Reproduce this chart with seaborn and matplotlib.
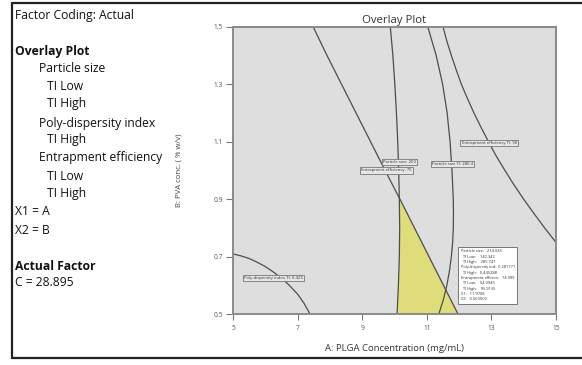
import numpy as np
import pandas as pd
import matplotlib
matplotlib.use("Agg")
import matplotlib.pyplot as plt
from matplotlib.lines import Line2D
import seaborn as sns

# ---- contour data (A: PLGA conc., B: PVA conc.) ----
b_levels = [0.5, 0.6, 0.7, 0.8, 0.9, 1.0, 1.1, 1.2, 1.3, 1.4, 1.5]
ps_low_a = [10.08, 10.12, 10.15, 10.16, 10.15, 10.13, 10.10, 10.06, 10.01, 9.95, 9.87]     # Particle size: 200
ee_low_a = [11.97, 11.52, 11.07, 10.62, 10.17, 9.71, 9.26, 8.81, 8.36, 7.91, 7.48]        # Entrapment efficiency: 75

ps_high_b = [0.5, 0.55, 0.6, 0.65, 0.7, 0.75, 0.8, 0.85, 0.9, 1.0, 1.1, 1.2, 1.3, 1.4, 1.5]
ps_high_a = [11.37, 11.51, 11.62, 11.70, 11.76, 11.80, 11.82, 11.825, 11.82, 11.78,
             11.72, 11.63, 11.49, 11.29, 11.03]                                            # Particle size TI: 280.4

ee_high_b = [0.75, 0.8, 0.85, 0.9, 0.95, 1.0, 1.05, 1.1, 1.15, 1.2, 1.25, 1.3, 1.35, 1.4, 1.45, 1.5]
ee_high_a = [15.0, 14.65, 14.32, 14.00, 13.70, 13.42, 13.15, 12.91, 12.68, 12.46,
             12.26, 12.07, 11.91, 11.76, 11.62, 11.50]                                     # Entrapment efficiency TI: 90

pdi_a = [5.0, 5.25, 5.5, 5.75, 6.0, 6.25, 6.5, 6.75, 7.0, 7.2, 7.39]
pdi_b = [0.710, 0.703, 0.694, 0.681, 0.666, 0.647, 0.626, 0.600, 0.570, 0.538, 0.5]      # Poly-dispersity index TI: 0.423

x_ticks = [5, 7, 9, 11, 13, 15]
y_ticks = [0.5, 0.7, 0.9, 1.1, 1.3, 1.5]

# flag point
flag_x1 = 11.9708
flag_x2 = 0.500002
flag_lines = [
    "Particle size:   214.045",
    "  TI Low:    142.342",
    "  TI High:    285.747",
    "Poly-dispersity ind:  0.281771",
    "  TI High:   0.445288",
    "Entrapment efficien:   74.999",
    "  TI Low:    54.0945",
    "  TI High:    95.9135",
    f"X1:   {flag_x1:.4f}",
    f"X2:   {flag_x2:.6f}",
]

sidebar = [
    ("Factor Coding: Actual", 15, 15, "normal"),
    ("Overlay Plot", 15, 52, "bold"),
    ("Particle size", 39, 69, "normal"),
    ("TI Low", 47, 87, "normal"),
    ("TI High", 47, 104, "normal"),
    ("Poly-dispersity index", 39, 123, "normal"),
    ("TI High", 47, 140, "normal"),
    ("Entrapment efficiency", 39, 158, "normal"),
    ("TI Low", 47, 176, "normal"),
    ("TI High", 47, 194, "normal"),
    ("X1 = A", 15, 212, "normal"),
    ("X2 = B", 15, 231, "normal"),
    ("Actual Factor", 15, 266, "bold"),
    ("C = 28.895", 15, 283, "normal"),
]

sns.set_theme(style="white")
plt.rcParams["font.family"] = ["Open Sans", "DejaVu Sans"]

W, H = 582, 365
fig = plt.figure(figsize=(W / 100, H / 100), dpi=100)
fig.patch.set_facecolor("white")
ax = fig.add_axes([233 / W, 1 - 314.3 / H, (556 - 233) / W, (314.3 - 26.7) / H])
ax.set_facecolor("#dedede")

line_col = "#4d4d4d"

# desirable region between the PS 200 and EE 75 boundaries
ax.fill_betweenx(b_levels, ps_low_a, ee_low_a,
                 where=np.array(ee_low_a) >= np.array(ps_low_a),
                 interpolate=True, color="#dfdc7a", lw=0, zorder=1)

curves = [
    (ps_low_a, b_levels),
    (ps_high_a, ps_high_b),
    (ee_low_a, b_levels),
    (ee_high_a, ee_high_b),
    (pdi_a, pdi_b),
]
for xs, ys in curves:
    df = pd.DataFrame({"A": xs, "B": ys})
    sns.lineplot(data=df, x="A", y="B", sort=False, estimator=None,
                 color=line_col, lw=0.9, ax=ax, zorder=2)

ax.set_xlim(5, 15)
ax.set_ylim(0.5, 1.5)
ax.set_xticks(x_ticks)
ax.set_yticks(y_ticks)
ax.set_xticklabels([str(v) for v in x_ticks])
ax.set_yticklabels([f"{v:.1f}" for v in y_ticks])
ax.tick_params(axis="both", direction="out", bottom=True, left=True,
               width=0.8, color="#777777", labelcolor="#555555", labelsize=4.8)
ax.tick_params(axis="y", length=5, pad=2.2)
ax.tick_params(axis="x", length=4.3, pad=3.4)
for s in ax.spines.values():
    s.set_color("#8a8a8a")
    s.set_linewidth(1.4)

ax.set_xlabel("A: PLGA Concentration (mg/mL)", fontsize=6.8, color="#333333", labelpad=9)
ax.set_ylabel("B: PVA conc. ( % w/v)", fontsize=5.6, color="#444444", labelpad=22)
ax.set_title("Overlay Plot", fontsize=8.2, color="#333333", pad=3)

box = dict(boxstyle="square,pad=0.25", fc="#e6e6e6", ec="#777777", lw=0.6)
labels = [
    ("Particle size: 200", 10.15, 1.03),
    ("Entrapment efficiency: 75", 9.75, 1.00),
    ("Particle size TI: 280.4", 11.79, 1.023),
    ("Entrapment efficiency TI: 90", 12.93, 1.097),
    ("Poly-dispersity index TI: 0.423", 6.26, 0.625),
]
for txt, lx, ly in labels:
    ax.text(lx, ly, txt, fontsize=3.1, color="#333333", ha="center", va="center",
            bbox=box, zorder=4)

ax.text(flag_x1 + 0.08, flag_x2 + 0.045, "\n".join(flag_lines), fontsize=2.9,
        color="#333333", ha="left", va="bottom", linespacing=1.45,
        bbox=dict(boxstyle="square,pad=0.6", fc="white", ec="#777777", lw=0.7),
        zorder=5)

for txt, px, py, wt in sidebar:
    fig.text(px / W, 1 - py / H, txt, fontsize=8.7, fontweight=wt,
             color="#111111", ha="left", va="center")

# outer frame
frame_kw = dict(color="#222222", lw=1.6, transform=fig.transFigure)
fig.add_artist(Line2D([12 / W, 12 / W], [1 - 3 / H, 1 - 358 / H], **frame_kw))
fig.add_artist(Line2D([12 / W, 1], [1 - 3 / H, 1 - 3 / H], **frame_kw))
fig.add_artist(Line2D([12 / W, 1], [1 - 358 / H, 1 - 358 / H], **frame_kw))

fig.savefig("out.png", dpi=100)
